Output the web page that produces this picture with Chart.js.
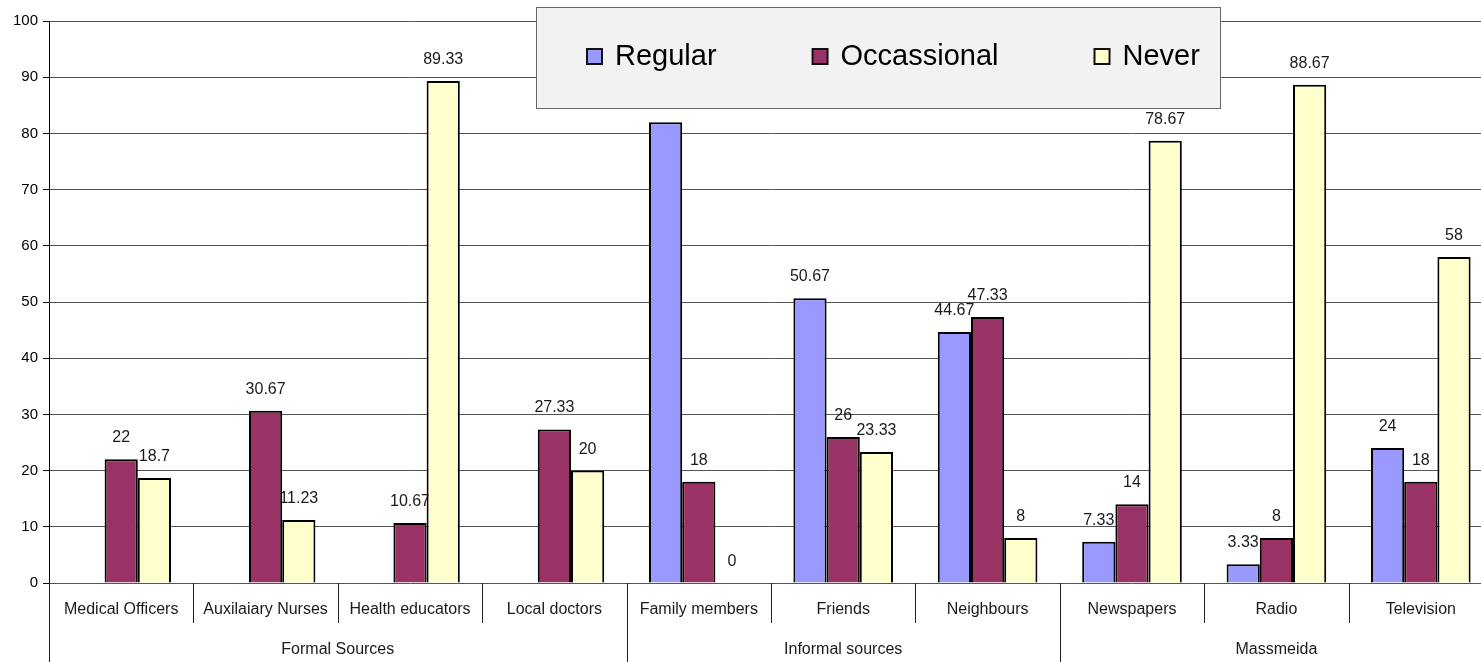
<!DOCTYPE html>
<html>
<head>
<meta charset="utf-8">
<script src="https://cdn.jsdelivr.net/npm/chart.js@4.4.1/dist/chart.umd.min.js"></script>
<style>
  html, body { margin: 0; padding: 0; background: #fff; overflow: hidden; width: 1481px; height: 662px; }
  #wrap { position: relative; width: 1500px; height: 662px; }
</style>
</head>
<body>
<div id="wrap"><canvas id="c" width="1500" height="662"></canvas></div>
<script>
// Sources of information, grouped by kind of source
const categories = ['Medical Officers', 'Auxilaiary Nurses', 'Health educators', 'Local doctors',
  'Family members', 'Friends', 'Neighbours', 'Newspapers', 'Radio', 'Television'];
const groupNames = ['Formal Sources', 'Informal sources', 'Massmeida'];
const groupSizes = [4, 3, 3];

// Percentage of respondents per frequency of use
const regular    = [null, null, null, null, 82, 50.67, 44.67, 7.33, 3.33, 24];
const occasional = [22, 30.67, 10.67, 27.33, 18, 26, 47.33, 14, 8, 18];
const never      = [18.7, 11.23, 89.33, 20, 0, 23.33, 8, 78.67, 88.67, 58];

const seriesNames = ['Regular', 'Occassional', 'Never'];
const seriesColors = ['#9999FF', '#993366', '#FFFFCC'];

const yTicks = [0, 10, 20, 30, 40, 50, 60, 70, 80, 90, 100];

const FONT = '"Liberation Sans", Arial, sans-serif';
const TEXT = '#1a1a1a';

// Value labels, painted before the bars so bars sit over them
const valueLabels = {
  id: 'valueLabels',
  beforeDatasetsDraw(chart) {
    const ctx = chart.ctx;
    ctx.save();
    ctx.font = '16px ' + FONT;
    ctx.fillStyle = TEXT;
    ctx.textAlign = 'center';
    ctx.textBaseline = 'alphabetic';
    chart.data.datasets.forEach((ds, di) => {
      const meta = chart.getDatasetMeta(di);
      meta.data.forEach((bar, i) => {
        const v = ds.data[i];
        if (v === null || v === undefined) return;
        ctx.fillText(String(v), bar.x, bar.y - 17);
      });
    });
    ctx.restore();
  }
};

// Two-level category axis under the plot, then the boxed legend on top
const axisAndLegend = {
  id: 'axisAndLegend',
  afterDraw(chart) {
    const ctx = chart.ctx;
    const xs = chart.scales.x;
    const area = chart.chartArea;
    const H = chart.height;
    const n = categories.length;
    const boundary = (i) => {
      if (i === 0) return xs.left;
      if (i === n) return xs.right;
      return (xs.getPixelForValue(i - 1) + xs.getPixelForValue(i)) / 2;
    };
    const groupEdges = new Set([0]);
    let acc = 0;
    groupSizes.forEach(s => { acc += s; groupEdges.add(acc); });

    ctx.save();
    ctx.strokeStyle = '#222';
    ctx.lineWidth = 1;
    for (let i = 0; i <= n; i++) {
      const x = Math.round(boundary(i)) + 0.5;
      ctx.beginPath();
      ctx.moveTo(x, area.bottom);
      ctx.lineTo(x, groupEdges.has(i) ? H : area.bottom + 40);
      ctx.stroke();
    }
    ctx.fillStyle = TEXT;
    ctx.font = '16px ' + FONT;
    ctx.textAlign = 'center';
    ctx.textBaseline = 'middle';
    categories.forEach((c, i) => {
      ctx.fillText(c, xs.getPixelForValue(i), area.bottom + 27);
    });
    let start = 0;
    groupNames.forEach((g, gi) => {
      const end = start + groupSizes[gi];
      ctx.fillText(g, (boundary(start) + boundary(end)) / 2, area.bottom + 67);
      start = end;
    });

    // legend box
    const bx = 536, by = 7, bw = 684, bh = 101;
    ctx.fillStyle = '#f2f2f2';
    ctx.fillRect(bx, by, bw, bh);
    ctx.strokeStyle = '#666';
    ctx.lineWidth = 1;
    ctx.strokeRect(bx + 0.5, by + 0.5, bw, bh);
    ctx.font = '29px ' + FONT;
    ctx.textAlign = 'left';
    ctx.textBaseline = 'alphabetic';
    let x = 586;
    seriesNames.forEach((name, si) => {
      ctx.fillStyle = '#111';
      ctx.fillRect(x, 48, 17, 17);
      ctx.fillStyle = seriesColors[si];
      ctx.fillRect(x + 2, 50, 13, 13);
      ctx.fillStyle = '#000';
      ctx.fillText(name, x + 29, 65);
      x = x + 29 + ctx.measureText(name).width + 95;
    });
    ctx.restore();
  }
};

const datasets = [regular, occasional, never].map((d, i) => ({
  label: seriesNames[i],
  data: d,
  backgroundColor: seriesColors[i],
  borderColor: '#000',
  borderWidth: 2,
  borderSkipped: 'bottom',
  categoryPercentage: 0.69,
  barPercentage: 1.0
}));

new Chart(document.getElementById('c'), {
  type: 'bar',
  data: { labels: categories, datasets },
  options: {
    responsive: false,
    animation: false,
    devicePixelRatio: 1,
    layout: { padding: { top: 21, right: 7, left: 0, bottom: 0 } },
    plugins: { legend: { display: false }, tooltip: { enabled: false } },
    scales: {
      x: {
        offset: true,
        grid: { display: false, drawTicks: false },
        border: { display: false },
        ticks: { display: false },
        afterFit(scale) { scale.height = 79; }
      },
      y: {
        min: 0,
        max: 100,
        afterBuildTicks(scale) { scale.ticks = yTicks.map(v => ({ value: v })); },
        ticks: { font: { family: FONT, size: 15 }, color: '#000', padding: 5 },
        grid: { color: '#555', lineWidth: 1, tickLength: 6, tickColor: '#000' },
        border: { color: '#000', width: 1 },
        afterFit(scale) { scale.width = 49; }
      }
    }
  },
  plugins: [valueLabels, axisAndLegend]
});
</script>
</body>
</html>
